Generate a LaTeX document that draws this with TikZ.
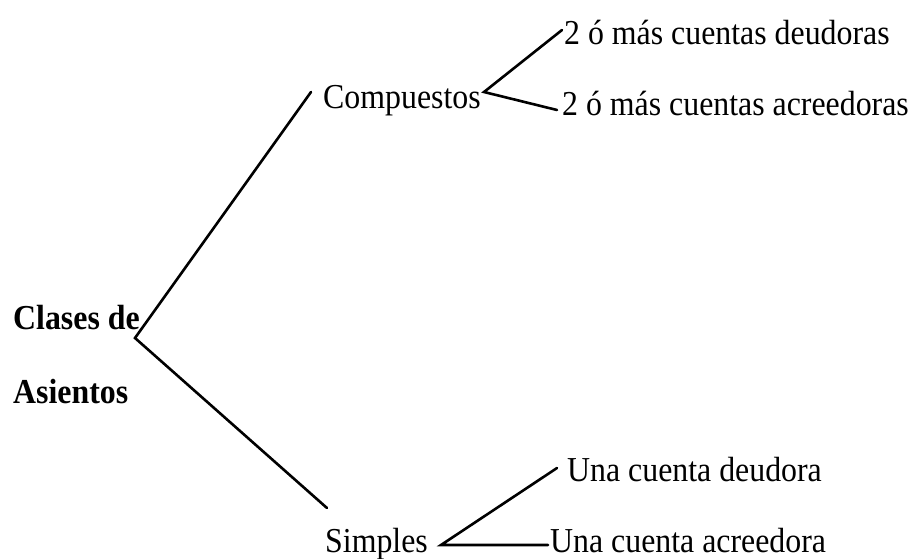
\documentclass[tikz,border=0pt]{standalone}
\usepackage{fontspec}
\setmainfont{Liberation Serif}[FakeStretch=0.91]
\begin{document}
\begin{tikzpicture}[x=1pt,y=-1pt,
  lbl/.style={anchor=base west,inner sep=0pt,font=\fontsize{35}{42}\selectfont},
  blbl/.style={lbl,font=\fontsize{35}{42}\selectfont\bfseries},
  conn/.style={line width=2.6pt,line cap=round,line join=miter}]
\fill[white] (0,0) rectangle (912,558);
\useasboundingbox (0,0) rectangle (912,558);
% texts
\node[blbl] (clases) at (13,329) {Clases de};
\node[blbl] (asientos) at (13,403) {Asientos};
\node[lbl] (comp) at (323,108) {Compuestos};
\node[lbl] (cdeu) at (564,44) {2 ó más cuentas deudoras};
\node[lbl] (cacr) at (562,115) {2 ó más cuentas acreedoras};
\node[lbl] (simp) at (325,552) {Simples};
\node[lbl] (udeu) at (567,481) {Una cuenta deudora};
\node[lbl] (uacr) at (550,552) {Una cuenta acreedora};
% connector points
\coordinate (v0) at (135,338);
\coordinate (a) at (311,92);
\coordinate (b) at (327,508);
\coordinate (v1) at (484,92);
\coordinate (c) at (562,30);
\coordinate (d) at (557,110);
\coordinate (v2) at (441,545);
\coordinate (e) at (548,545);
\coordinate (f) at (557,468);
% connectors
\draw[conn] (a) -- (v0) -- (b);
\draw[conn] (c) -- (v1) -- (d);
\draw[conn] (f) -- (v2) -- (e);
\end{tikzpicture}
\end{document}
